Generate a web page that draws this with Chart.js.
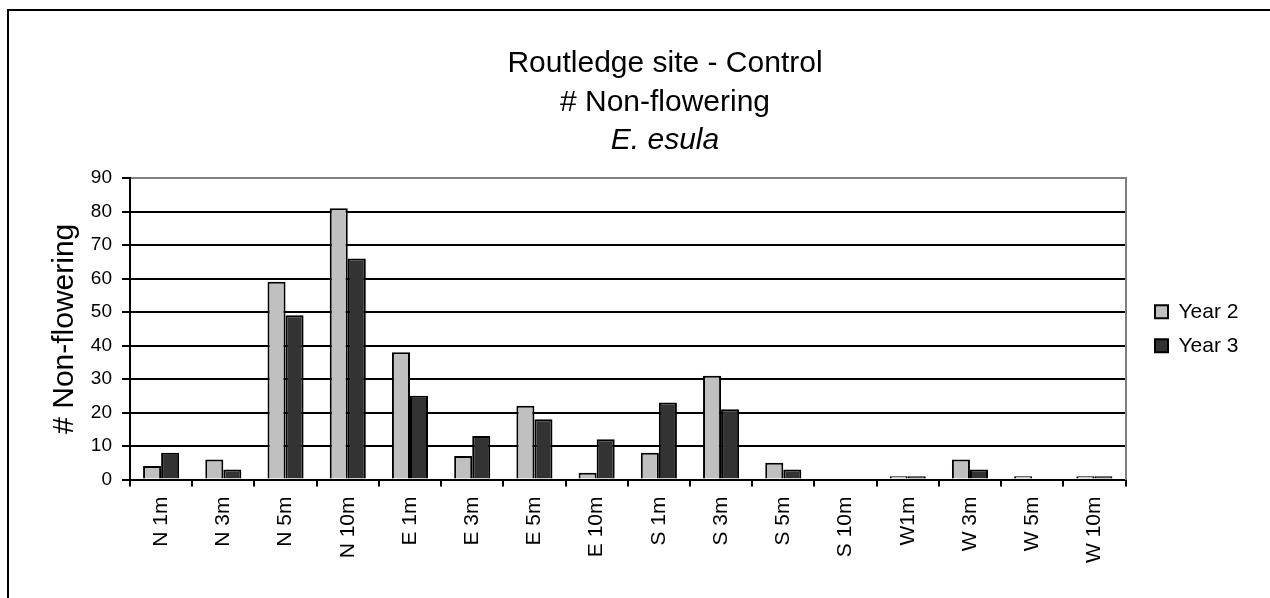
<!DOCTYPE html>
<html><head><meta charset="utf-8">
<script src="https://cdn.jsdelivr.net/npm/chart.js@4"></script>
<style>
html,body{margin:0;padding:0;background:#fff;overflow:hidden;width:1270px;height:598px}
#frame{position:absolute;left:7px;top:9px;border-left:2px solid #000;border-top:2px solid #000;width:1312px;height:600px}
canvas{display:block}
</style></head><body>
<div id="frame"><canvas id="c" width="1312" height="587" style="width:1312px;height:587px"></canvas></div>
<script>
const categories = ['N 1m','N 3m','N 5m','N 10m','E 1m','E 3m','E 5m','E 10m','S 1m','S 3m','S 5m','S 10m','W1m','W 3m','W 5m','W 10m'];
const year2 = [4,6,59,81,38,7,22,2,8,31,5,0,1,6,1,1];
const year3 = [8,3,49,66,25,13,18,12,23,21,3,0,1,3,0,1];
const seriesNames = ['Year 2','Year 3'];
const titleLines = ['Routledge site - Control','# Non-flowering'];
const subtitleText = 'E. esula';
const yAxisTitle = '# Non-flowering';
const yMin = 0, yMax = 90, yStep = 10;

const FF = "'Liberation Sans', Arial, sans-serif";

new Chart(document.getElementById('c'), {
  type: 'bar',
  data: {
    labels: categories,
    datasets: [
      {label: seriesNames[0], data: year2, backgroundColor: '#C0C0C0', borderColor: '#000', borderWidth: 2, yAxisID: 'y'},
      {label: seriesNames[1], data: year3, backgroundColor: '#333333', borderColor: '#000', borderWidth: 2, yAxisID: 'y'}
    ]
  },
  options: {
    responsive: false,
    animation: false,
    devicePixelRatio: 1,
    layout: {padding: 0},
    datasets: {bar: {categoryPercentage: 0.58, barPercentage: 1.0}},
    plugins: {
      tooltip: {enabled: false},
      title: {
        display: true, text: titleLines, color: '#000',
        font: {family: FF, size: 30, weight: 'normal', lineHeight: 39/30},
        padding: {top: 33.5, bottom: 0}
      },
      subtitle: {
        display: true, text: subtitleText, color: '#000',
        font: {family: FF, size: 30, style: 'italic', weight: 'normal', lineHeight: 36/30},
        padding: {top: 0, bottom: 19.5}
      },
      legend: {
        position: 'right', align: 'center', fullSize: false, maxWidth: 100,
        labels: {
          boxWidth: 13, boxHeight: 13, padding: 13, color: '#000',
          font: {family: FF, size: 21}
        }
      }
    },
    scales: {
      x: {
        offset: true,
        grid: {offset: true, drawOnChartArea: false, drawTicks: true, tickLength: 7, color: '#000', lineWidth: 2},
        border: {color: '#000', width: 2},
        ticks: {minRotation: 90, maxRotation: 90, autoSkip: false, padding: 10, color: '#000', font: {family: FF, size: 21}},
        afterFit(s) { s.height = 118.5; }
      },
      y: {
        min: yMin, max: yMax,
        ticks: {stepSize: yStep, padding: 10, color: '#000', font: {family: FF, size: 19}},
        grid: {
          color: (ctx) => (ctx.tick && ctx.tick.value === yMax) ? '#808080' : '#000000',
          tickColor: '#000', lineWidth: 2, tickLength: 8, drawTicks: true
        },
        border: {color: '#000', width: 2},
        title: {display: true, text: yAxisTitle, color: '#000', font: {family: FF, size: 30, lineHeight: 1.2}, padding: {top: 38, bottom: 0}},
        afterFit(s) { s.width = 121; }
      },
      yr: {
        type: 'linear', position: 'right', min: yMin, max: yMax,
        ticks: {display: false},
        grid: {drawOnChartArea: false, drawTicks: false},
        border: {color: '#808080', width: 2},
        afterFit(s) { s.width = 16.5; }
      },
      pad: {
        type: 'linear', position: 'right', weight: 2000, min: yMin, max: yMax,
        ticks: {display: false},
        grid: {display: false, drawTicks: false},
        border: {display: false},
        afterFit(s) { s.width = 79; }
      }
    }
  }
});
</script>
</body></html>
